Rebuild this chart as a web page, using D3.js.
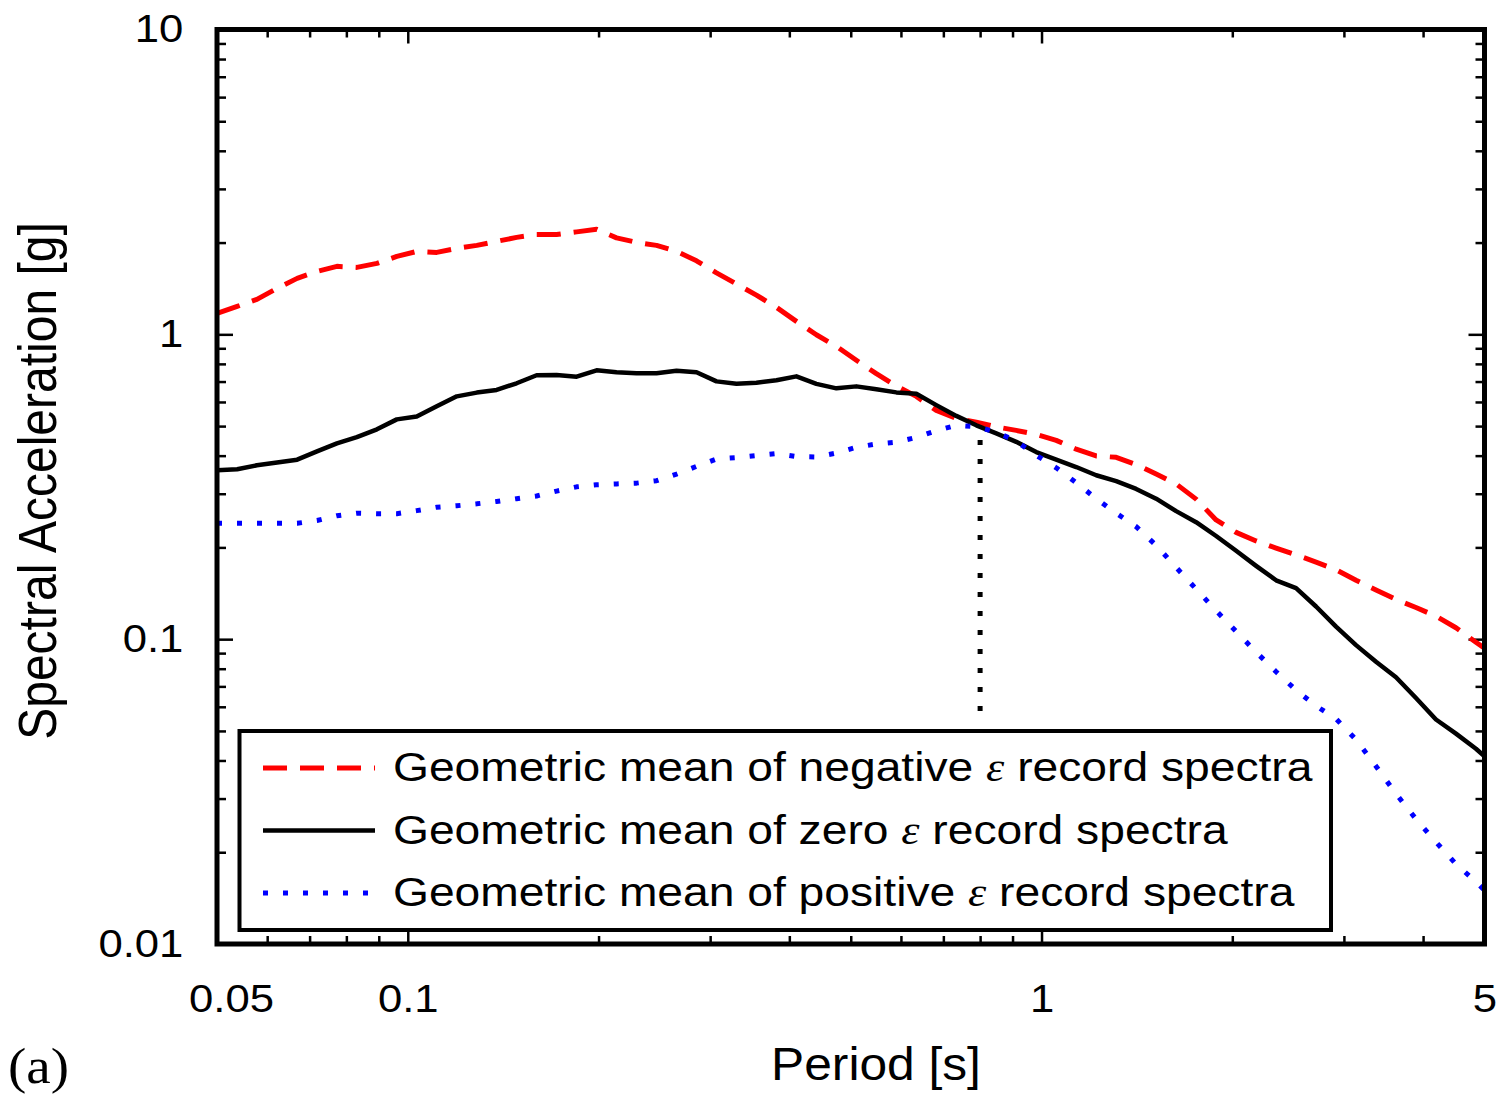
<!DOCTYPE html>
<html>
<head>
<meta charset="utf-8">
<script src="https://cdn.jsdelivr.net/npm/d3@7"></script>
<style>
  body { margin: 0; background: #fff; }
  text { fill: #000; }
</style>
</head>
<body>
<svg id="chart" width="1502" height="1095"></svg>
<script>
// period grid [s]
const periods = [0.05, 0.0538, 0.0578, 0.0622, 0.0669, 0.0719, 0.0773, 0.0831, 0.0894, 0.0961,
  0.1033, 0.1111, 0.1195, 0.1285, 0.1381, 0.1485, 0.1597, 0.1717, 0.1847, 0.1986,
  0.2135, 0.2296, 0.2469, 0.2655, 0.2855, 0.307, 0.3301, 0.3549, 0.3817, 0.4104,
  0.4413, 0.4746, 0.5103, 0.5487, 0.5901, 0.6345, 0.6823, 0.7337, 0.789, 0.8484,
  0.9123, 0.981, 1.0549, 1.1343, 1.2198, 1.3116, 1.4104, 1.5166, 1.6309, 1.7537,
  1.8858, 2.0278, 2.1805, 2.3448, 2.5214, 2.7113, 2.9155, 3.1351, 3.3712, 3.6251,
  3.8981, 4.1917, 4.5074, 4.8469, 5.0];

// geometric mean spectra [g]
const negEps = [1.172, 1.235, 1.302, 1.415, 1.526, 1.609, 1.671, 1.658, 1.709, 1.802,
  1.871, 1.857, 1.914, 1.958, 2.018, 2.080, 2.127, 2.127, 2.168, 2.210,
  2.072, 2.003, 1.958, 1.871, 1.742, 1.591, 1.463, 1.345, 1.226, 1.103,
  0.997, 0.913, 0.822, 0.743, 0.677, 0.626, 0.563, 0.530, 0.515, 0.497,
  0.484, 0.470, 0.449, 0.420, 0.399, 0.395, 0.374, 0.348, 0.323, 0.288,
  0.246, 0.224, 0.210, 0.199, 0.189, 0.179, 0.169, 0.156, 0.145, 0.135,
  0.127, 0.119, 0.109, 0.0977, 0.0934];

const zeroEps = [0.358, 0.361, 0.372, 0.380, 0.388, 0.413, 0.439, 0.460, 0.488, 0.526,
  0.538, 0.581, 0.626, 0.644, 0.657, 0.691, 0.734, 0.735, 0.726, 0.762,
  0.751, 0.745, 0.745, 0.759, 0.751, 0.701, 0.688, 0.694, 0.707, 0.728,
  0.688, 0.665, 0.675, 0.660, 0.645, 0.638, 0.586, 0.540, 0.503, 0.473,
  0.444, 0.411, 0.388, 0.367, 0.345, 0.330, 0.311, 0.289, 0.263, 0.242,
  0.218, 0.195, 0.174, 0.156, 0.147, 0.128, 0.110, 0.0956, 0.0843, 0.0750,
  0.0641, 0.0545, 0.0490, 0.0437, 0.0413];

const posEps = [0.240, 0.240, 0.240, 0.240, 0.240, 0.245, 0.254, 0.259, 0.258, 0.258,
  0.264, 0.271, 0.274, 0.278, 0.283, 0.289, 0.295, 0.306, 0.316, 0.321,
  0.323, 0.325, 0.331, 0.348, 0.369, 0.390, 0.394, 0.400, 0.406, 0.397,
  0.396, 0.408, 0.426, 0.437, 0.443, 0.459, 0.483, 0.503, 0.498, 0.478,
  0.446, 0.401, 0.365, 0.326, 0.289, 0.259, 0.234, 0.203, 0.172, 0.146,
  0.124, 0.106, 0.0907, 0.0782, 0.0680, 0.0604, 0.0548, 0.0468, 0.0383, 0.0311,
  0.0257, 0.0216, 0.0183, 0.0160, 0.0150];

// conditioning period marker
const markerPeriod = [0.8, 0.8];
const markerValues = [0.45, 0.055];

const xTickLabels = [0.05, 0.1, 1, 5];
const yTickLabels = [0.01, 0.1, 1, 10];
const legendLabels = [
  ["Geometric mean of negative ", " record spectra"],
  ["Geometric mean of zero ", " record spectra"],
  ["Geometric mean of positive ", " record spectra"]
];

const sans = "'Liberation Sans', Arial, Helvetica, sans-serif";
const serif = "'Liberation Serif', 'Times New Roman', serif";
const stretch = 1.12;   // the original figure is a little wider than tall

const svg = d3.select("#chart");
const plotLeft = 217, plotRight = 1484.5, plotTop = 29.5, plotBottom = 944;

const x = d3.scaleLog().domain([0.05, 5]).range([plotLeft, plotRight]);
const y = d3.scaleLog().domain([0.01, 10]).range([plotBottom, plotTop]);

const isDecade = v => Math.abs(Math.log10(v) - Math.round(Math.log10(v))) < 1e-9;

// tick marks, all pointing inwards
const xMinor = x.ticks().filter(v => !isDecade(v) && v > 0.05 && v < 5);
const xMajor = x.ticks().filter(v => isDecade(v));
const yMinor = y.ticks().filter(v => !isDecade(v));
const yMajor = y.ticks().filter(v => isDecade(v) && v > 0.01 && v < 10);

function tickAxis(axis, tx, ty) {
  const g = svg.append("g")
    .attr("transform", `translate(${tx},${ty})`)
    .call(axis.tickFormat(""));
  g.select(".domain").remove();
  g.selectAll("line").attr("stroke", "#000").attr("stroke-width", 2.5);
}
tickAxis(d3.axisBottom(x).tickValues(xMinor).tickSize(-8), 0, plotBottom);
tickAxis(d3.axisBottom(x).tickValues(xMajor).tickSize(-14), 0, plotBottom);
tickAxis(d3.axisTop(x).tickValues(xMinor).tickSize(-8), 0, plotTop);
tickAxis(d3.axisTop(x).tickValues(xMajor).tickSize(-14), 0, plotTop);
tickAxis(d3.axisLeft(y).tickValues(yMinor).tickSize(-9), plotLeft, 0);
tickAxis(d3.axisLeft(y).tickValues(yMajor).tickSize(-16), plotLeft, 0);
tickAxis(d3.axisRight(y).tickValues(yMinor).tickSize(-9), plotRight, 0);
tickAxis(d3.axisRight(y).tickValues(yMajor).tickSize(-16), plotRight, 0);

// tick labels
const fmt = d => String(d);
const xl = svg.append("g")
  .attr("transform", `translate(0,${plotBottom})`)
  .call(d3.axisBottom(x).tickValues(xTickLabels).tickSize(0).tickPadding(40).tickFormat(fmt));
xl.select(".domain").remove();
xl.selectAll("text")
  .attr("font-size", 39)
  .style("font-family", sans)
  .attr("fill", "#000")
  .attr("transform", `scale(${stretch},1)`)
  .attr("dx", d => d === 0.05 ? 12.5 : 0);

const yl = svg.append("g")
  .attr("transform", `translate(${plotLeft},0)`)
  .call(d3.axisLeft(y).tickValues(yTickLabels).tickSize(0).tickPadding(30).tickFormat(fmt));
yl.select(".domain").remove();
yl.selectAll("text")
  .attr("font-size", 39)
  .style("font-family", sans)
  .attr("fill", "#000")
  .attr("transform", `scale(${stretch},1)`);

// curves
svg.append("clipPath").attr("id", "plot-clip")
  .append("rect").attr("x", plotLeft).attr("y", plotTop)
  .attr("width", plotRight - plotLeft).attr("height", plotBottom - plotTop);

const line = d3.line()
  .x(d => x(d[0]))
  .y(d => y(d[1]));

const plot = svg.append("g").attr("clip-path", "url(#plot-clip)");

const series = [
  { values: negEps, color: "#ff0000", width: 5, dash: "24,13" },
  { values: zeroEps, color: "#000000", width: 4.5, dash: null },
  { values: posEps, color: "#0000ff", width: 5, dash: "5,15" }
];

plot.append("path")
  .datum(d3.zip(markerPeriod, markerValues))
  .attr("fill", "none")
  .attr("stroke", "#000")
  .attr("stroke-width", 5)
  .attr("stroke-dasharray", "5,14")
  .attr("d", line);

series.forEach(s => {
  plot.append("path")
    .datum(d3.zip(periods, s.values))
    .attr("fill", "none")
    .attr("stroke", s.color)
    .attr("stroke-width", s.width)
    .attr("stroke-dasharray", s.dash)
    .attr("stroke-linejoin", "round")
    .attr("d", line);
});

// frame
svg.append("rect")
  .attr("x", plotLeft).attr("y", plotTop)
  .attr("width", plotRight - plotLeft).attr("height", plotBottom - plotTop)
  .attr("fill", "none").attr("stroke", "#000").attr("stroke-width", 5);

// legend
const legend = svg.append("g");
legend.append("rect")
  .attr("x", 239.5).attr("y", 731)
  .attr("width", 1091.5).attr("height", 199)
  .attr("fill", "#fff").attr("stroke", "#000").attr("stroke-width", 4);

series.forEach((s, i) => {
  const cy = 768 + i * 62.5;
  legend.append("line")
    .attr("x1", 263).attr("x2", 375)
    .attr("y1", cy).attr("y2", cy)
    .attr("stroke", s.color)
    .attr("stroke-width", s.width)
    .attr("stroke-dasharray", s.dash);
  const t = legend.append("text")
    .attr("transform", `translate(393,${cy + 13}) scale(1.155,1)`)
    .attr("font-size", 40)
    .style("font-family", sans);
  t.append("tspan").text(legendLabels[i][0]);
  t.append("tspan")
    .style("font-family", serif)
    .style("font-style", "italic")
    .text("\u03b5");
  t.append("tspan").text(legendLabels[i][1]);
});

// axis titles
svg.append("text")
  .attr("transform", `translate(876,1080) scale(1.08,1)`)
  .attr("text-anchor", "middle")
  .attr("font-size", 46)
  .style("font-family", sans)
  .text("Period [s]");

svg.append("text")
  .attr("transform", `translate(56,481) scale(${stretch},1) rotate(-90)`)
  .attr("text-anchor", "middle")
  .attr("font-size", 48)
  .style("font-family", sans)
  .text("Spectral Acceleration [g]");

svg.append("text")
  .attr("transform", `translate(8,1083) scale(1.1,1)`)
  .attr("font-size", 50)
  .style("font-family", serif)
  .text("(a)");
</script>
</body>
</html>
